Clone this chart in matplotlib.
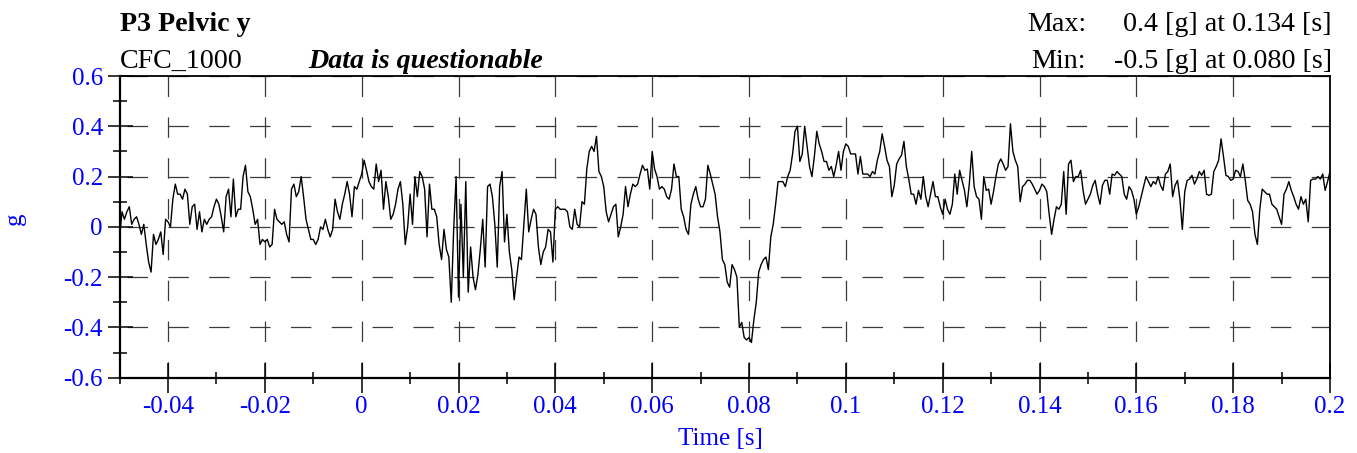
import numpy as np
import matplotlib
matplotlib.use("Agg")
import matplotlib.pyplot as plt
from matplotlib.ticker import MultipleLocator

plt.rcParams['font.family'] = ['Liberation Serif', 'DejaVu Serif']
plt.rcParams['lines.scale_dashes'] = False

# ---------------- data ----------------
t_start = -0.05          # s
dt = 0.0005              # s, sampling step of the values below
accel_g = [
    -0.04, 0.06, 0.03, 0.06, 0.08, 0.01, 0.03, 0.04, 0.01, -0.03,
    0.01, -0.07, -0.14, -0.18, -0.03, -0.07, -0.05, -0.02, -0.11, 0.03,
    0.02, 0.0, 0.11, 0.17, 0.13, 0.13, 0.11, 0.15, 0.13, 0.01,
    0.08, 0.09, -0.01, 0.06, -0.02, 0.03, 0.01, 0.03, 0.04, 0.08,
    0.11, 0.09, 0.04, -0.02, 0.12, 0.15, 0.04, 0.19, 0.04, 0.07,
    0.07, 0.2, 0.245, 0.14, 0.12, 0.07, 0.01, 0.03, -0.07, -0.05,
    -0.06, -0.05, -0.08, -0.07, 0.07, 0.03, 0.02, 0.01, 0.02, -0.03,
    -0.06, 0.15, 0.17, 0.12, 0.14, 0.2, 0.12, 0.03, -0.01, -0.05,
    -0.05, -0.07, -0.05, 0.0, -0.01, 0.03, -0.01, -0.04, -0.01, 0.11,
    0.06, 0.03, 0.09, 0.13, 0.18, 0.13, 0.04, 0.16, 0.15, 0.18,
    0.21, 0.265, 0.225, 0.18, 0.16, 0.15, 0.25, 0.18, 0.225, 0.07,
    0.18, 0.12, 0.03, 0.05, 0.09, 0.15, 0.18, 0.09, -0.07, 0.0,
    0.13, 0.01, 0.2, 0.12, 0.22, 0.2, 0.15, -0.04, 0.17, 0.07,
    0.07, 0.04, -0.07, -0.13, -0.01, -0.09, -0.12, -0.3, -0.01, 0.2,
    -0.28, 0.09, -0.2, 0.18, -0.26, -0.08, -0.2, -0.25, -0.19, -0.09,
    0.03, -0.16, 0.16, 0.17, 0.12, 0.01, -0.16, 0.16, 0.22, -0.06,
    0.05, -0.1, -0.17, -0.29, -0.2, -0.12, -0.13, 0.01, 0.15, -0.02,
    0.03, 0.07, 0.05, -0.08, -0.15, -0.1, -0.08, -0.01, -0.02, -0.14,
    0.07, 0.08, 0.07, 0.07, 0.07, 0.06, 0.0, -0.01, 0.07, 0.01,
    0.0, 0.1, 0.09, 0.23, 0.3, 0.32, 0.3, 0.36, 0.22, 0.2,
    0.16, 0.06, 0.02, 0.05, 0.08, 0.09, -0.04, 0.0, 0.05, 0.16,
    0.08, 0.13, 0.17, 0.16, 0.17, 0.21, 0.245, 0.225, 0.23, 0.15,
    0.3, 0.23, 0.2, 0.15, 0.16, 0.15, 0.12, 0.11, 0.15, 0.25,
    0.2, 0.2, 0.07, 0.04, -0.01, -0.03, 0.09, 0.13, 0.16, 0.11,
    0.08, 0.08, 0.11, 0.245, 0.21, 0.17, 0.13, 0.04, -0.02, -0.13,
    -0.15, -0.22, -0.24, -0.15, -0.17, -0.2, -0.4, -0.38, -0.44, -0.45,
    -0.44, -0.46, -0.37, -0.3, -0.18, -0.15, -0.13, -0.12, -0.17, -0.04,
    0.01, 0.09, 0.18, 0.18, 0.18, 0.16, 0.2, 0.225, 0.29, 0.38,
    0.4, 0.26, 0.29, 0.4, 0.32, 0.24, 0.2, 0.28, 0.38, 0.33,
    0.3, 0.26, 0.26, 0.225, 0.24, 0.2, 0.245, 0.3, 0.225, 0.3,
    0.33, 0.32, 0.29, 0.29, 0.29, 0.21, 0.28, 0.21, 0.21, 0.21,
    0.2, 0.22, 0.21, 0.265, 0.3, 0.37, 0.32, 0.265, 0.24, 0.12,
    0.165, 0.25, 0.27, 0.285, 0.34, 0.24, 0.19, 0.13, 0.13, 0.09,
    0.145, 0.11, 0.2, 0.12, 0.08, 0.13, 0.18, 0.12, 0.12, 0.08,
    0.05, 0.11, 0.07, 0.05, 0.09, 0.21, 0.13, 0.225, 0.185, 0.145,
    0.08, 0.17, 0.3, 0.16, 0.12, 0.11, 0.03, 0.2, 0.145, 0.15,
    0.09, 0.14, 0.2, 0.25, 0.27, 0.25, 0.225, 0.24, 0.41, 0.3,
    0.265, 0.24, 0.1, 0.16, 0.17, 0.185, 0.185, 0.17, 0.15, 0.13,
    0.145, 0.17, 0.16, 0.14, 0.05, -0.03, 0.03, 0.08, 0.07, 0.09,
    0.22, 0.05, 0.25, 0.265, 0.18, 0.2, 0.2, 0.225, 0.145, 0.09,
    0.11, 0.13, 0.165, 0.185, 0.13, 0.09, 0.165, 0.185, 0.185, 0.13,
    0.21, 0.205, 0.22, 0.21, 0.2, 0.13, 0.11, 0.16, 0.145, 0.11,
    0.05, 0.08, 0.12, 0.16, 0.2, 0.18, 0.16, 0.18, 0.17, 0.2,
    0.165, 0.145, 0.21, 0.22, 0.25, 0.12, 0.165, 0.185, 0.11, -0.01,
    0.14, 0.185, 0.19, 0.205, 0.17, 0.19, 0.22, 0.205, 0.225, 0.13,
    0.125, 0.13, 0.22, 0.24, 0.265, 0.35, 0.28, 0.205, 0.2, 0.185,
    0.19, 0.225, 0.22, 0.2, 0.25, 0.185, 0.105, 0.09, 0.06, -0.03,
    -0.07, 0.07, 0.15, 0.14, 0.13, 0.13, 0.09, 0.08, 0.07, 0.04,
    0.01, 0.13, 0.15, 0.18, 0.145, 0.12, 0.09, 0.07, 0.12, 0.09,
    0.11, 0.02, 0.185, 0.19, 0.19, 0.2, 0.19, 0.21, 0.145, 0.18, 0.22,
]
time_s = t_start + dt * np.arange(len(accel_g))

x_ticks = [-0.04, -0.02, 0.0, 0.02, 0.04, 0.06, 0.08, 0.1, 0.12, 0.14, 0.16, 0.18, 0.2]
x_tick_labels = ['-0.04', '-0.02', '0', '0.02', '0.04', '0.06', '0.08', '0.1',
                 '0.12', '0.14', '0.16', '0.18', '0.2']
y_ticks = [-0.6, -0.4, -0.2, 0.0, 0.2, 0.4, 0.6]
y_tick_labels = ['-0.6', '-0.4', '-0.2', '0', '0.2', '0.4', '0.6']

title_text = 'P3 Pelvic y'
filter_text = 'CFC_1000'
note_text = 'Data is questionable'
max_label, max_value = 'Max:', '0.4 [g] at 0.134 [s]'
min_label, min_value = 'Min:', '-0.5 [g] at 0.080 [s]'
x_label = 'Time [s]'
y_label = 'g'

# ---------------- figure ----------------
W, H = 1357, 453
fig = plt.figure(figsize=(W / 100, H / 100), dpi=100)
L, R, T, B = 119.6, 1330.0, 76.0, 377.7
ax = fig.add_axes([L / W, 1 - B / H, (R - L) / W, (B - T) / H])

ax.plot(time_s, accel_g, color='black', lw=1.0, zorder=3)

ax.set_xlim(-0.05, 0.2)
ax.set_ylim(-0.6, 0.6)

blue = '#0000FF'
tick_fs = 18
ax.set_xticks(x_ticks)
ax.set_xticklabels(x_tick_labels, color=blue, fontsize=tick_fs)
ax.set_yticks(y_ticks)
ax.set_yticklabels(y_tick_labels, color=blue, fontsize=tick_fs)
ax.xaxis.set_minor_locator(MultipleLocator(0.01))
ax.yaxis.set_minor_locator(MultipleLocator(0.1))

ax.tick_params(axis='x', which='major', direction='inout', length=21, width=1.1, pad=2.5)
ax.tick_params(axis='x', which='minor', direction='inout', length=9, width=1.1)
ax.tick_params(axis='y', which='major', direction='inout', length=18, width=1.1, pad=3)
ax.tick_params(axis='y', which='minor', direction='inout', length=9.5, width=1.1)

for side in ['left', 'bottom']:
    ax.spines[side].set_linewidth(1.6)
for side in ['top', 'right']:
    ax.spines[side].set_linewidth(1.3)

grid_col = '#3a3a3a'
ax.xaxis.grid(True, which='major', color=grid_col, lw=0.9,
              linestyle=(3.1, (14.7, 14.7)), zorder=1)
ax.yaxis.grid(True, which='major', color=grid_col, lw=0.9,
              linestyle=(24.3, (14.7, 14.7)), zorder=1)
ax.set_axisbelow(True)

# ---------------- texts ----------------
def fx(px):
    return px / W

def fy(py):
    return 1 - py / H

hs = 20.2
fig.text(fx(120), fy(31), title_text, fontsize=hs, fontweight='bold', va='baseline', ha='left')
fig.text(fx(120), fy(68), filter_text, fontsize=hs, va='baseline', ha='left')
fig.text(fx(308), fy(68), note_text, fontsize=hs, fontweight='bold', fontstyle='italic',
         va='baseline', ha='left')
fig.text(fx(1086), fy(31), max_label, fontsize=hs, va='baseline', ha='right')
fig.text(fx(1332), fy(31), max_value, fontsize=hs, va='baseline', ha='right')
fig.text(fx(1086), fy(68), min_label, fontsize=hs, va='baseline', ha='right')
fig.text(fx(1332), fy(68), min_value, fontsize=hs, va='baseline', ha='right')

fig.text(fx(720), fy(445), x_label, fontsize=tick_fs, color=blue, va='baseline', ha='center')
fig.text(fx(15), fy(219), y_label, fontsize=tick_fs, color=blue, va='center', ha='center',
         rotation=90)

fig.savefig('out.png', dpi=100)
